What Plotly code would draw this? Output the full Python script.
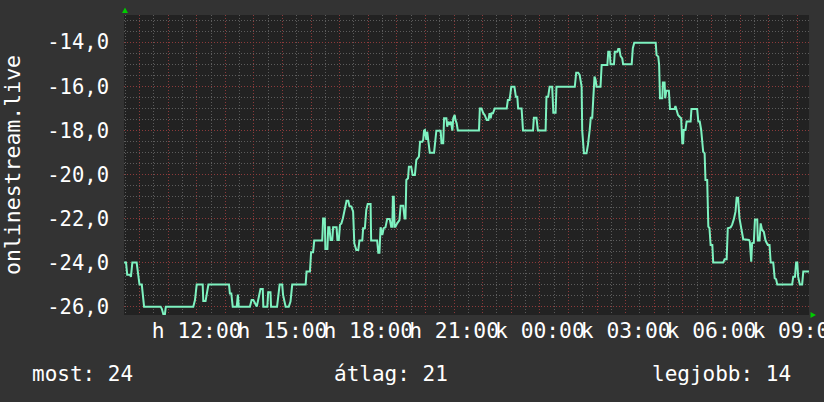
import plotly.graph_objects as go

# ---- data (time in hours since midnight of day 1, value) ----
hours = [
    9.46, 9.53, 9.57, 9.67, 9.70, 9.75, 9.90, 9.94, 10.00, 10.08, 10.11, 10.16, 10.74, 10.78,
    10.83, 10.89, 10.92, 11.88, 11.94, 12.00, 12.21, 12.23, 12.31, 12.35, 12.41, 13.13, 13.16,
    13.21, 13.26, 13.40, 13.44, 13.47, 13.86, 13.92, 13.98, 14.04, 14.10, 14.15, 14.23, 14.31,
    14.33, 14.47, 14.50, 14.58, 14.60, 14.81, 14.85, 14.90, 14.99, 15.02, 15.07, 15.11, 15.22,
    15.28, 15.34, 15.81, 15.84, 15.96, 16.00, 16.07, 16.11, 16.39, 16.42, 16.48, 16.50, 16.57,
    16.60, 16.64, 16.68, 16.74, 16.77, 16.89, 16.92, 16.97, 17.01, 17.06, 17.11, 17.18, 17.24,
    17.30, 17.34, 17.41, 17.47, 17.51, 17.58, 17.65, 17.69, 17.79, 17.82, 17.88, 17.93, 17.98,
    18.08, 18.10, 18.31, 18.35, 18.39, 18.43, 18.49, 18.54, 18.60, 18.66, 18.75, 18.80, 18.84,
    18.86, 18.89, 18.92, 18.95, 19.01, 19.09, 19.13, 19.22, 19.27, 19.30, 19.33, 19.39, 19.42,
    19.50, 19.55, 19.63, 19.68, 19.74, 19.77, 19.81, 19.89, 19.92, 19.95, 19.98, 20.03, 20.06,
    20.10, 20.15, 20.30, 20.33, 20.38, 20.53, 20.56, 20.62, 20.65, 20.73, 20.76, 20.80, 20.85,
    20.89, 20.94, 20.97, 21.02, 21.05, 21.09, 21.13, 21.87, 21.90, 21.96, 22.02, 22.07, 22.14,
    22.20, 22.24, 22.28, 22.31, 22.36, 22.42, 22.84, 22.88, 22.94, 23.00, 23.11, 23.16, 23.21,
    23.24, 23.36, 23.41, 23.67, 23.76, 23.79, 23.88, 23.93, 24.20, 24.23, 24.29, 24.34, 24.43,
    24.47, 24.55, 24.58, 25.22, 25.27, 25.34, 25.39, 25.42, 25.46, 25.48, 25.54, 25.63, 25.68,
    25.74, 25.78, 25.83, 25.87, 25.91, 25.95, 25.98, 26.12, 26.16, 26.36, 26.39, 26.44, 26.47,
    26.59, 26.62, 26.71, 26.74, 26.78, 26.82, 26.88, 26.91, 27.21, 27.25, 27.30, 28.05, 28.08,
    28.14, 28.17, 28.20, 28.28, 28.30, 28.36, 28.38, 28.42, 28.51, 28.55, 28.71, 28.74, 28.78,
    28.83, 28.90, 28.94, 28.98, 29.01, 29.03, 29.09, 29.13, 29.27, 29.30, 29.50, 29.54, 29.59,
    29.64, 29.71, 29.76, 29.79, 29.85, 29.89, 29.93, 29.97, 30.03, 30.06, 30.41, 30.46, 30.53,
    30.57, 30.67, 30.72, 30.78, 30.84, 30.88, 30.93, 30.98, 31.04, 31.11, 31.31, 31.34, 31.39,
    31.42, 31.48, 31.52, 31.60, 31.62, 31.68, 31.72, 31.77, 31.83, 31.89, 31.97, 32.03, 32.07,
    32.16, 32.21, 32.26, 32.30, 32.82, 32.86, 32.92, 32.96, 33.00, 33.03, 33.09, 33.17, 33.21,
    33.35, 33.41,
]
values = [
    -24.0, -24.0, -24.55, -24.55, -24.65, -24.0, -24.0, -24.35, -25.0, -25.0, -25.5, -26.0, -26.0, -26.1,
    -26.33, -26.33, -26.0, -26.0, -25.7, -25.0, -25.0, -25.75, -25.75, -25.45, -25.0, -25.0, -25.4,
    -25.4, -26.0, -26.0, -25.45, -26.0, -26.0, -25.7, -25.7, -25.85, -26.0, -25.7, -25.2, -25.2,
    -26.0, -26.0, -25.35, -25.35, -26.0, -26.0, -25.47, -25.0, -25.0, -25.47, -25.77, -26.0, -26.0,
    -25.77, -25.0, -25.0, -24.41, -24.41, -23.53, -23.53, -23.0, -23.0, -22.0, -22.0, -23.38, -23.38,
    -22.4, -22.4, -22.97, -22.97, -22.4, -22.4, -22.97, -22.97, -22.29, -22.22, -22.0, -21.61, -21.19,
    -21.19, -21.43, -21.46, -21.69, -23.12, -23.43, -23.43, -23.0, -23.0, -22.44, -22.44, -21.61, -21.34,
    -21.34, -23.0, -23.0, -23.55, -23.55, -22.4, -22.75, -22.44, -22.4, -22.02, -22.02, -22.37, -22.37,
    -21.01, -21.01, -22.37, -22.37, -22.22, -22.07, -21.42, -21.42, -22.0, -22.0, -20.25, -20.17, -19.65,
    -19.65, -20.02, -20.02, -19.34, -19.27, -19.19, -18.51, -18.51, -18.43, -18.01, -17.98, -18.43, -18.06,
    -18.58, -19.01, -19.01, -18.58, -18.01, -18.01, -18.58, -18.58, -17.45, -17.45, -17.83, -17.6, -17.75,
    -17.6, -18.01, -17.45, -17.3, -17.53, -17.68, -18.0, -18.0, -17.0, -17.0, -17.22, -17.3, -17.53,
    -17.53, -17.22, -17.45, -17.22, -17.22, -17.0, -17.0, -16.62, -16.62, -16.02, -16.02, -16.47, -16.47,
    -17.0, -17.0, -18.0, -18.0, -18.0, -17.42, -17.42, -18.0, -18.0, -16.47, -16.47, -16.02, -16.02,
    -17.2, -17.2, -16.02, -16.02, -15.38, -15.38, -15.48, -15.79, -16.02, -18.0, -19.04, -19.04, -18.66,
    -18.0, -17.42, -17.42, -16.47, -15.56, -15.71, -16.02, -16.02, -15.03, -15.03, -14.43, -14.43, -15.0,
    -15.0, -14.43, -14.43, -14.3, -14.3, -14.62, -14.73, -15.0, -15.0, -14.27, -14.02, -14.02, -14.58,
    -14.65, -15.03, -16.54, -16.54, -15.83, -15.83, -16.54, -16.2, -16.2, -17.03, -17.03, -16.89, -17.03,
    -17.3, -17.4, -17.45, -18.58, -18.58, -17.98, -17.98, -17.6, -17.6, -17.03, -17.03, -17.6, -17.6,
    -17.98, -18.97, -19.04, -20.25, -20.25, -22.37, -22.44, -23.2, -23.2, -24.0, -24.0, -23.85, -23.85,
    -22.44, -22.4, -22.29, -22.04, -21.69, -21.06, -21.06, -21.99, -22.52, -22.94, -22.97, -23.05, -23.96,
    -23.12, -23.1, -22.04, -22.04, -23.0, -23.0, -22.22, -22.52, -22.6, -23.0, -23.2, -23.2, -24.0,
    -24.0, -24.71, -24.76, -25.0, -25.0, -24.64, -24.64, -24.0, -24.0, -24.64, -25.0, -25.0, -24.41,
    -24.41, -24.41,
]

hour_grid = list(range(10, 34))
label_hours = [12, 15, 18, 21, 24, 27, 30, 33]
label_texts = ["h 12:00", "h 15:00", "h 18:00", "h 21:00", "k 00:00", "k 03:00", "k 06:00", "k 09:00"]

y_ticks = [-26, -24, -22, -20, -18, -16, -14]
y_labels = ["-26,0", "-24,0", "-22,0", "-20,0", "-18,0", "-16,0", "-14,0"]

y_title = "onlinestream.live"
legend_items = ["most: 24", "átlag: 21", "legjobb: 14"]

# ---- styling ----
FONT = "DejaVu Sans Mono"
LINE = "#7ef2c0"
MAJOR = "rgba(140,58,58,1)"
MINOR = "rgba(92,92,92,1)"
DASH = "1px,2px"

X0, X1 = 9.458, 33.41
Y0, Y1 = -26.38, -12.76

x_text = [label_texts[label_hours.index(h)] if h in label_hours else "" for h in hour_grid]
x_minor = [h + 0.5 for h in range(9, 33)]
y_minor = [v / 2 for v in range(-53, -25) if v % 4 != 0]

fig = go.Figure()
fig.add_trace(go.Scatter(x=hours, y=values, mode="lines",
                         line=dict(color=LINE, width=2), hoverinfo="skip"))

fig.update_layout(
    width=824, height=402,
    margin=dict(l=124, r=15, t=15, b=87, autoexpand=False),
    paper_bgcolor="#333333", plot_bgcolor="#222222",
    showlegend=False,
    font=dict(family=FONT, color="white"),
    xaxis=dict(
        range=[X0, X1], tickmode="array", tickvals=hour_grid, ticktext=x_text,
        tickangle=0, ticklabeloverflow="allow", tickfont=dict(size=21.3, family=FONT),
        showgrid=True, gridcolor=MAJOR, griddash=DASH, gridwidth=1, automargin=False,
        zeroline=False, showline=False, ticks="", ticklabelstandoff=1,
        minor=dict(tickmode="array", tickvals=x_minor, showgrid=True,
                   gridcolor=MINOR, griddash=DASH, gridwidth=1),
    ),
    yaxis=dict(
        range=[Y0, Y1], tickmode="array", tickvals=y_ticks, ticktext=y_labels,
        tickfont=dict(size=20.5, family=FONT), automargin=False,
        showgrid=True, gridcolor=MAJOR, griddash=DASH, gridwidth=1,
        zeroline=False, showline=False, ticks="", ticklabelstandoff=14,
        minor=dict(tickmode="array", tickvals=y_minor, showgrid=True,
                   gridcolor=MINOR, griddash=DASH, gridwidth=1),
        title=dict(text=y_title, font=dict(size=21.5, family=FONT), standoff=25),
    ),
)

# legend row
leg_px = [29.5, 332, 650]
for txt, px in zip(legend_items, leg_px):
    fig.add_annotation(text=txt, xref="paper", yref="paper",
                       x=(px - 124) / 685, y=(315 - 374) / 300,
                       xanchor="left", yanchor="middle", showarrow=False,
                       font=dict(size=21, family=FONT, color="white"))

# green axis arrows
fig.add_shape(type="path", xref="paper", yref="paper",
              path="M %f %f L %f %f L %f %f Z" % (
                  (122.0 - 124) / 685, (315 - 13) / 300,
                  (128.0 - 124) / 685, (315 - 13) / 300,
                  (125.0 - 124) / 685, (315 - 7.5) / 300),
              fillcolor="#00cc00", line=dict(width=0))
fig.add_shape(type="path", xref="paper", yref="paper",
              path="M %f %f L %f %f L %f %f Z" % (
                  (810.5 - 124) / 685, (315 - 312) / 300,
                  (810.5 - 124) / 685, (315 - 318) / 300,
                  (816.0 - 124) / 685, (315 - 315) / 300),
              fillcolor="#00cc00", line=dict(width=0))

fig.write_html("out.html", config={"displayModeBar": False},
               post_script="document.body.style.margin='0';")
